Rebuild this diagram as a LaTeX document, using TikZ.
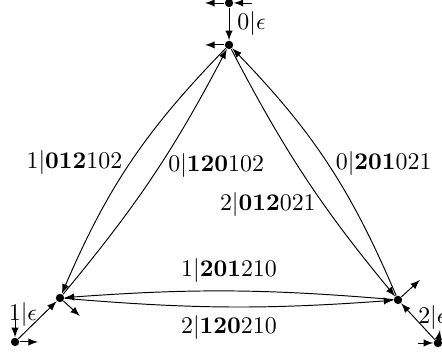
\documentclass[tikz,border=0pt]{standalone}
\usepackage{bm}
\begin{document}
\begin{tikzpicture}[>=latex,
    dot/.style={circle,fill,inner sep=0pt,minimum size=3.5pt}]
      \useasboundingbox (0,0) rectangle (6.5,5.235);
      % States
      \node[dot] (s0) at (3.368,4.574) {};
      \node[dot] (s1) at (0.882,0.853) {};
      \node[dot] (s2) at (5.853,0.824) {};
      % Start states
      \node[dot] (i0) at (3.368,5.191) {};
      \node[dot] (i1) at (0.221,0.206) {};
      \node[dot] (i2) at (6.44,0.191) {};
      % Free ends of the short arrows
      \coordinate (i0in) at (3.706,5.191);
      \coordinate (i0out) at (3.015,5.191);
      \coordinate (s0out) at (3.015,4.574);
      \coordinate (s1out) at (1.176,0.588);
      \coordinate (s2out) at (6.176,1.118);
      \coordinate (i1in) at (0.221,0.529);
      \coordinate (i1out) at (0.559,0.206);
      \coordinate (i2in) at (6.147,0.191);
      \coordinate (i2out) at (6.47,0.38);
      % Short arrows
      \draw[->] (i0in) -- (i0);
      \draw[->] (i0) -- (i0out);
      \draw[->] (s0) -- (s0out);
      \draw[->] (s1) -- (s1out);
      \draw[->] (s2) -- (s2out);
      \draw[->] (i1in) -- (i1);
      \draw[->] (i1) -- (i1out);
      \draw[->] (i2in) -- (i2);
      \draw[->] (i2) -- (i2out);
      % Start transitions
      \draw[->] (i0) -- (s0) node[midway,right] {$0|\epsilon$};
      \draw[->] (i1) -- (s1) node[pos=0.65,left=-1pt] {$1|\epsilon$};
      \draw[->] (i2) -- (s2) node[pos=0.6,right=-2pt] {$2|\epsilon$};
      % Transitions between the states
      \draw[->] (s0) to[bend right=10.5] node[pos=0.5,left] {$1|\mathbf{012}102$} (s1);
      \draw[->] (s1) to[bend right=6] node[pos=0.55,right] {$0|\mathbf{120}102$} (s0);
      \draw[->] (s2) to[bend right=10.5] node[pos=0.5,right] {$0|\mathbf{201}021$} (s0);
      \draw[->] (s0) to[bend right=6] node[pos=0.62,left] {$2|\mathbf{012}021$} (s2);
      \draw[->] (s2) to[bend right=4.5] node[midway,above] {$1|\mathbf{201}210$} (s1);
      \draw[->] (s1) to[bend right=4.5] node[midway,below] {$2|\mathbf{120}210$} (s2);
    \end{tikzpicture}
\end{document}
